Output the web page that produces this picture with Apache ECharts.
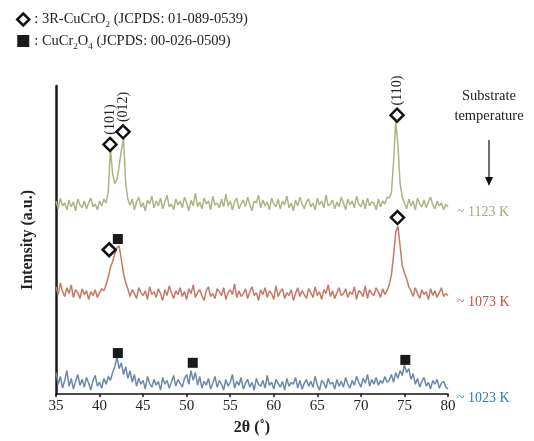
<!DOCTYPE html>
<html>
<head>
<meta charset="utf-8">
<script src="https://cdn.jsdelivr.net/npm/echarts@6/dist/echarts.min.js"></script>
<style>
  html, body { margin: 0; padding: 0; background: #fff; }
  #chart { width: 534px; height: 441px; }
</style>
</head>
<body>
<div id="chart"></div>
<script>
// 2theta grid of the scans: 35 .. 80 deg, 0.25 deg step
var twoThetaStart = 35;
var twoThetaStep = 0.25;

// intensity above each trace's own baseline (a.u.)
var scan1123 = [
  12, 4, 15, 7, 10, 3, 13, 6, 11, 2, 14, 8, 5, 12, 4, 10, 15, 6, 9, 3, 12, 7, 14, 10,
  22, 66, 40, 30, 34, 48, 64, 76, 30, 14,
  8, 14, 3, 11, 16, 6, 10, 2, 13, 9, 17, 5, 12, 7, 15, 4, 11, 18, 6, 9,
  3, 14, 8, 12, 5, 16, 10, 2, 13, 7, 20, 6, 11, 4, 15, 9, 12, 3, 17, 8,
  10, 5, 14, 6, 19, 7, 12, 3, 11, 15, 4, 9, 13, 6, 16, 8, 2, 12, 10, 18,
  5, 13, 7, 11, 3, 15, 9, 6, 14, 4, 12, 8, 17, 5, 10, 2, 13, 7, 16, 9,
  4, 11, 14, 6, 10, 3, 15, 8, 12, 5, 18, 7, 9, 13, 4, 11, 6, 16, 10, 3,
  14, 8, 12, 5, 17, 9, 6, 13, 4, 15, 7, 11, 10, 3, 14, 6, 12, 9, 16,
  15, 20, 52, 94, 70, 30, 16,
  10, 4, 14, 7, 12, 3, 15, 9, 6, 13, 5, 11, 16, 8, 4, 12, 7, 10, 3, 9, 6
];
var scan1073 = [
  16, 8, 20, 11, 6, 15, 9, 18, 5, 13, 10, 4, 14, 8, 12, 3, 11, 7, 13, 5,
  10, 14, 12,
  18, 26, 36, 42, 50, 56, 58, 44, 30, 20, 14,
  6, 13, 9, 4, 15, 10, 7, 12, 3, 16, 8, 11, 5, 14, 9, 2, 13, 7, 17, 10,
  4, 12, 8, 15, 6, 11, 3, 14, 9, 18, 5, 10, 13, 7, 2, 12, 16, 6, 9, 4,
  14, 11, 7, 15, 3, 10, 13, 8, 19, 5, 12, 6, 9, 14, 4, 11, 16, 7, 10, 2,
  13, 8, 15, 5, 12, 9, 3, 17, 6, 11, 14, 4, 10, 7, 13, 2, 9, 15, 6, 12,
  8, 4, 14, 10, 5, 16, 7, 11, 3, 13, 9, 18, 6, 12, 4, 10, 15, 7, 9, 14,
  5, 11, 8, 16, 3, 12, 10, 6, 17, 4, 13, 9, 7, 15, 11, 5, 14, 8, 12,
  18, 28, 48, 72, 78, 58, 38, 30, 24, 16,
  12, 6, 15, 9, 4, 13, 8, 11, 3, 14, 7, 12, 5, 10, 15, 6, 9, 7
];
var scan1023 = [
  20, 8, 16, 4, 12, 22, 6, 14, 3, 11, 18, 7, 13, 5, 15, 9, 2, 12, 17, 6, 10, 4, 14, 8,
  16, 12, 20, 26, 36, 24, 30, 18, 26, 14, 22, 10, 18, 6,
  14, 8, 12, 3, 16, 9, 5, 13, 7, 11, 2, 15, 8, 12, 4, 10, 17, 6, 13, 9, 5, 14,
  18, 8, 22, 12, 20, 7, 16,
  4, 11, 7, 14, 3, 9, 16, 5, 12, 8, 2, 13, 6, 10, 18, 4, 11, 7, 15, 3,
  9, 13, 5, 10, 2, 14, 8, 6, 12, 4, 17, 7, 10, 3, 13, 9, 5, 11, 2, 14,
  6, 10, 8, 15, 4, 12, 3, 9, 13, 6, 11, 5, 16, 7, 2, 12, 9, 4, 14, 8,
  10, 3, 13, 6, 11, 5, 15, 8, 4, 12, 7, 16, 10, 5, 14, 9, 18, 6, 13, 8,
  15, 7, 12, 9, 16, 10,
  12, 18, 10, 20, 14, 22, 17, 28, 20, 24, 13, 19,
  8, 14, 5, 11, 15, 6, 10, 3, 12, 8, 13, 4, 9, 11, 5, 3
];

// stacking: baseline of each trace on the shared intensity axis
var traceNames = ['~ 1123 K', '~ 1073 K', '~ 1023 K'];
var traceOffsets = [186, 94, 2];
var traceColors = ['#a9b585', '#c47a63', '#6d87ab'];
var labelColors = ['#9fae7e', '#c0533f', '#2f7bb5'];
var labelShift = [5, 7, 9];

// phase markers [2theta, intensity on stacked axis]
var cucro2Peaks = [[41.2, 256], [42.7, 269], [74.15, 286], [74.2, 181], [41.1, 148]];
var cucro2Hkl = ['(101)', '(012)', '(110)', '', ''];
var cucr2o4Peaks = [[42.1, 159], [42.1, 42], [50.7, 32], [75.1, 35]];

var font = 'Liberation Serif';
var diamondStyle = { color: '#fff', borderColor: '#111', borderWidth: 2.5, opacity: 1 };
var squareStyle = { color: '#1a1a1a', opacity: 1 };

function toPairs(values, offset) {
  return values.map(function (v, i) {
    return [twoThetaStart + i * twoThetaStep, offset + v];
  });
}

var scans = [scan1123, scan1073, scan1023];
var series = scans.map(function (scan, k) {
  return {
    name: traceNames[k],
    type: 'line',
    data: toPairs(scan, traceOffsets[k]),
    showSymbol: false,
    symbol: 'none',
    lineStyle: { color: traceColors[k], width: 1.5 },
    itemStyle: { color: traceColors[k] },
    endLabel: {
      show: true,
      formatter: traceNames[k],
      color: labelColors[k],
      fontFamily: font,
      fontSize: 14,
      distance: 9,
      offset: [0, labelShift[k]]
    },
    z: 2
  };
});

series.push({
  name: 'CuCrO2',
  type: 'scatter',
  symbol: 'diamond',
  symbolSize: 13,
  itemStyle: diamondStyle,
  data: cucro2Peaks.map(function (p, i) {
    return {
      value: p,
      label: {
        show: cucro2Hkl[i] !== '',
        formatter: cucro2Hkl[i],
        position: 'top',
        rotate: 90,
        align: 'left',
        verticalAlign: 'middle',
        distance: 2,
        fontFamily: font,
        fontSize: 14,
        color: '#222'
      }
    };
  }),
  z: 5
});

series.push({
  name: 'CuCr2O4',
  type: 'scatter',
  symbol: 'rect',
  symbolSize: 10,
  itemStyle: squareStyle,
  data: cucr2o4Peaks,
  z: 5
});

var chart = echarts.init(document.getElementById('chart'));
chart.setOption({
  animation: false,
  backgroundColor: '#fff',
  grid: { left: 56, right: 86, top: 86, bottom: 38 },
  legend: {
    orient: 'vertical',
    left: 11,
    top: 7,
    itemGap: 4,
    itemWidth: 12,
    itemHeight: 12,
    data: [
      { name: 'CuCrO2', icon: 'diamond', itemStyle: diamondStyle },
      { name: 'CuCr2O4', icon: 'rect', itemStyle: squareStyle }
    ],
    formatter: function (name) {
      if (name === 'CuCrO2') {
        return '{t|: 3R-CuCrO}{s|2}{t| (JCPDS: 01-089-0539)}';
      }
      return '{t|: CuCr}{s|2}{t|O}{s|4}{t| (JCPDS: 00-026-0509)}';
    },
    textStyle: {
      rich: {
        t: { fontFamily: font, fontSize: 14.5, color: '#222', lineHeight: 20 },
        s: { fontFamily: font, fontSize: 9, color: '#222', lineHeight: 20, verticalAlign: 'bottom' }
      }
    }
  },
  xAxis: {
    type: 'value',
    min: 35,
    max: 80,
    interval: 5,
    name: '2θ (˚)',
    nameLocation: 'middle',
    nameGap: 26,
    nameTextStyle: { fontFamily: font, fontSize: 16, fontWeight: 'bold', color: '#222' },
    axisLine: { lineStyle: { color: '#111', width: 1.5 } },
    axisTick: { show: true, length: 3, lineStyle: { color: '#111', width: 1.5 } },
    axisLabel: { fontFamily: font, fontSize: 15, color: '#222', margin: 5 },
    splitLine: { show: false }
  },
  yAxis: {
    type: 'value',
    min: 0,
    max: 316,
    name: 'Intensity (a.u.)',
    nameLocation: 'middle',
    nameGap: 20,
    nameTextStyle: { fontFamily: font, fontSize: 16, fontWeight: 'bold', color: '#222' },
    axisLine: { show: true, lineStyle: { color: '#1a1a1a', width: 2.5 } },
    axisTick: { show: false },
    axisLabel: { show: false },
    splitLine: { show: false }
  },
  graphic: [
    {
      type: 'text',
      x: 489,
      y: 86,
      style: {
        text: 'Substrate\ntemperature',
        font: '14.5px "Liberation Serif"',
        fill: '#222',
        align: 'center',
        lineHeight: 20
      }
    },
    {
      type: 'line',
      shape: { x1: 489, y1: 140, x2: 489, y2: 180 },
      style: { stroke: '#111', lineWidth: 1.2 }
    },
    {
      type: 'polygon',
      shape: { points: [[485, 177], [493, 177], [489, 186]] },
      style: { fill: '#111' }
    }
  ],
  series: series
});
</script>
</body>
</html>
